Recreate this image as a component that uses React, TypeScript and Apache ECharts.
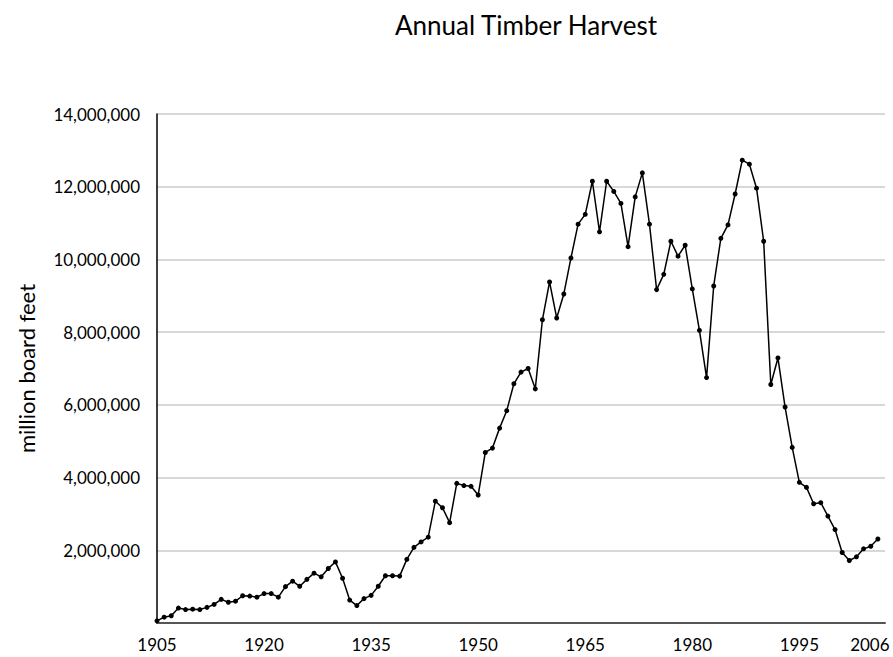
import React, { useEffect, useRef } from "react";
import * as echarts from "echarts";

const startYear = 1905;
const endYear = 2006;
// axis runs one year past the last data point (as in the reference)
const axisEndYear = 2007;
const years: string[] = [];
for (let y = startYear; y <= axisEndYear; y++) years.push(String(y));

// values in millions (scaled to board feet below)
const harvest1905to1946 = [
  0.06, 0.16, 0.2, 0.41, 0.37, 0.38, 0.37, 0.43, 0.51, 0.65,
  0.57, 0.6, 0.75, 0.74, 0.71, 0.81, 0.81, 0.71, 1.0, 1.15,
  1.01, 1.2, 1.37, 1.27, 1.5, 1.68, 1.23, 0.63, 0.48, 0.67,
  0.76, 1.01, 1.3, 1.3, 1.29, 1.75, 2.08, 2.23, 2.36, 3.35,
  3.17, 2.76,
];
const harvest1947to1990 = [
  3.84, 3.78, 3.76, 3.52, 4.69, 4.81, 5.36, 5.84, 6.58, 6.9,
  7.0, 6.44, 8.34, 9.38, 8.39, 9.05, 10.04, 10.97, 11.24, 12.15,
  10.76, 12.15, 11.87, 11.54, 10.35, 11.72, 12.38, 10.97, 9.17, 9.59,
  10.5, 10.09, 10.39, 9.19, 8.05, 6.75, 9.27, 10.58, 10.95, 11.8,
  12.73, 12.62, 11.96, 10.5,
];
const harvest1991to2006 = [
  6.56, 7.29, 5.94, 4.83, 3.87, 3.73, 3.28, 3.31, 2.94, 2.57,
  1.94, 1.72, 1.82, 2.04, 2.11, 2.31,
];
const harvestMillions = [...harvest1905to1946, ...harvest1947to1990, ...harvest1991to2006];
const harvest = harvestMillions.map((v) => Math.round(v * 1000000));

const tickLabels = ["1905", "1920", "1935", "1950", "1965", "1980", "1995", "2006"];
const lastLabel = String(endYear);

const FONT = "Lato, 'Open Sans', sans-serif";

export default function App() {
  const ref = useRef<HTMLDivElement>(null);
  useEffect(() => {
    if (!ref.current) return;
    const chart = echarts.init(ref.current, null, { renderer: "svg" });
    chart.setOption({
      animation: false,
      backgroundColor: "#ffffff",
      title: {
        text: "Annual Timber Harvest",
        left: 521,
        top: 7,
        textAlign: "center",
        textStyle: { fontFamily: FONT, fontSize: 26, fontWeight: "normal", color: "#000" },
      },
      grid: { left: 157, right: 8, top: 114, bottom: 34, containLabel: false },
      xAxis: {
        type: "category",
        data: years,
        boundaryGap: false,
        axisLine: { show: true, lineStyle: { color: "#555", width: 2 } },
        axisTick: { show: false },
        axisLabel: {
          interval: (_i: number, v: string) => tickLabels.includes(v),
          fontFamily: FONT,
          fontSize: 17,
          color: "#000",
          margin: 13,
          formatter: (v: string) => (v === lastLabel ? "{last|" + v + "}" : v),
          rich: {
            last: {
              fontFamily: FONT,
              fontSize: 17,
              color: "#000",
              padding: [0, 16, 0, 0],
            },
          },
        },
        splitLine: { show: false },
      },
      yAxis: {
        type: "value",
        min: 0,
        max: 14000000,
        interval: 2000000,
        name: "million board feet",
        nameLocation: "middle",
        nameGap: 120,
        nameTextStyle: { fontFamily: FONT, fontSize: 22, color: "#000" },
        axisLine: { show: true, lineStyle: { color: "#000", width: 1.5 } },
        axisTick: { show: false },
        axisLabel: {
          fontFamily: FONT,
          fontSize: 17,
          color: "#000",
          margin: 17,
          formatter: (v: number) => (v === 0 ? "" : v.toLocaleString("en-US")),
        },
        splitLine: { show: true, lineStyle: { color: "#d8d8d8", width: 2 } },
      },
      series: [
        {
          type: "line",
          data: harvest,
          symbol: "circle",
          symbolSize: 5,
          showAllSymbol: true,
          lineStyle: { color: "#000", width: 1.5 },
          itemStyle: { color: "#000" },
        },
      ],
    });
    return () => chart.dispose();
  }, []);
  return (
    <div
      ref={ref}
      style={{ position: "fixed", left: 0, top: 0, width: 893, height: 657 }}
    />
  );
}
